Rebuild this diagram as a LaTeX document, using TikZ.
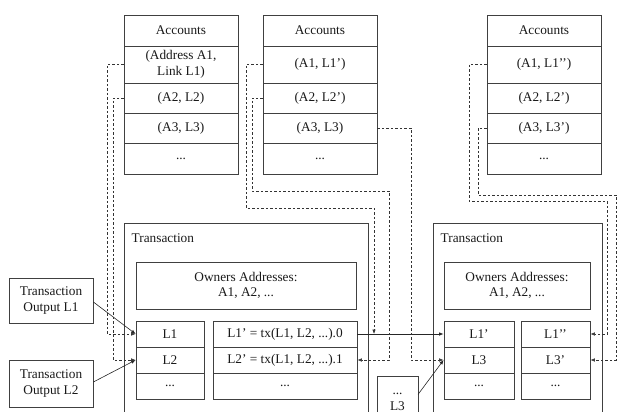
\documentclass[tikz,border=0pt]{standalone}
\usepackage{fontspec}
\setmainfont{Liberation Serif}
\usetikzlibrary{arrows.meta,calc}
\begin{document}
\begin{tikzpicture}[x=1pt,y=-1pt,
  every node/.style={font=\fontsize{13.3}{15.5}\selectfont, text=black!90},
  cell/.style={draw=black!75, line width=0.75pt, inner sep=0pt, align=center},
  plain/.style={inner sep=0pt, align=center},
  dashline/.style={draw=black!80, line width=0.6pt, dash pattern=on 2.6pt off 1.9pt, -{Latex[length=4.5pt,width=3.5pt]}},
  solidarrow/.style={draw=black!85, line width=0.75pt, -{Latex[length=4.5pt,width=3.5pt]}}]
\useasboundingbox (0,0) rectangle (619,412);
\clip (0,0) rectangle (619,412);

% ---------- Accounts tables ----------
\node[cell, minimum width=114pt, minimum height=31pt] (t1h)  at (181,30.5)  {Accounts};
\node[cell, minimum width=114pt, minimum height=37pt] (t1r1) at (181,64.5)  {(Address A1,\\Link L1)};
\node[cell, minimum width=114pt, minimum height=30pt] (t1r2) at (181,98)    {(A2, L2)};
\node[cell, minimum width=114pt, minimum height=30pt] (t1r3) at (181,128)   {(A3, L3)};
\node[cell, minimum width=114pt, minimum height=31pt] (t1r4) at (181,158.5) {...};

\node[cell, minimum width=114pt, minimum height=31pt] (t2h)  at (320,30.5)  {Accounts};
\node[cell, minimum width=114pt, minimum height=37pt] (t2r1) at (320,64.5)  {(A1, L1’)};
\node[cell, minimum width=114pt, minimum height=30pt] (t2r2) at (320,98)    {(A2, L2’)};
\node[cell, minimum width=114pt, minimum height=30pt] (t2r3) at (320,128)   {(A3, L3)};
\node[cell, minimum width=114pt, minimum height=31pt] (t2r4) at (320,158.5) {...};

\node[cell, minimum width=114pt, minimum height=31pt] (t3h)  at (544,30.5)  {Accounts};
\node[cell, minimum width=114pt, minimum height=37pt] (t3r1) at (544,64.5)  {(A1, L1’’)};
\node[cell, minimum width=114pt, minimum height=30pt] (t3r2) at (544,98)    {(A2, L2’)};
\node[cell, minimum width=114pt, minimum height=30pt] (t3r3) at (544,128)   {(A3, L3’)};
\node[cell, minimum width=114pt, minimum height=31pt] (t3r4) at (544,158.5) {...};

% ---------- Transaction 1 ----------
\node[cell, minimum width=244pt, minimum height=207pt] (tx1box) at (246,326.5) {};
\node[plain, anchor=west] (tx1lab) at (131.5,238) {Transaction};
\node[cell, minimum width=220pt, minimum height=47pt] (own1) at (246,285.5) {Owners Addresses:\\A1, A2, ...};
\node[cell, minimum width=68pt, minimum height=26pt] (i1a) at (170,334) {L1};
\node[cell, minimum width=68pt, minimum height=26pt] (i1b) at (170,360) {L2};
\node[cell, minimum width=68pt, minimum height=26pt] (i1c) at (170,386) {...};
\node[cell, minimum width=144pt, minimum height=26pt] (o1a) at (285,334) {L1’ = tx(L1, L2, ...).0};
\node[cell, minimum width=144pt, minimum height=26pt] (o1b) at (285,360) {L2’ = tx(L1, L2, ...).1};
\node[cell, minimum width=144pt, minimum height=26pt] (o1c) at (285,386) {...};

% ---------- Transaction 2 ----------
\node[cell, minimum width=169pt, minimum height=207pt] (tx2box) at (517.5,326.5) {};
\node[plain, anchor=west] (tx2lab) at (440.5,238) {Transaction};
\node[cell, minimum width=146pt, minimum height=47pt] (own2) at (517,285.5) {Owners Addresses:\\A1, A2, ...};
\node[cell, minimum width=70pt, minimum height=26pt] (i2a) at (479,334) {L1’};
\node[cell, minimum width=70pt, minimum height=26pt] (i2b) at (479,360) {L3};
\node[cell, minimum width=70pt, minimum height=26pt] (i2c) at (479,386) {...};
\node[cell, minimum width=69pt, minimum height=26pt] (o2a) at (555.5,334) {L1’’};
\node[cell, minimum width=69pt, minimum height=26pt] (o2b) at (555.5,360) {L3’};
\node[cell, minimum width=69pt, minimum height=26pt] (o2c) at (555.5,386) {...};

% ---------- small L3 box ----------
\node[cell, minimum width=41pt, minimum height=64pt] (l3box) at (397.5,408) {};
\node[plain] (l3text) at (397.5,402) {...\\L3};
\coordinate (l3src) at (418,394.5);

% ---------- outputs ----------
\node[cell, minimum width=84pt, minimum height=45pt] (out1) at (51,300.5) {Transaction\\Output L1};
\node[cell, minimum width=84pt, minimum height=47pt] (out2) at (51,383.5) {Transaction\\Output L2};

% ---------- solid arrows ----------
\draw[solidarrow] (o1a.east) -- (i2a.west);
\coordinate (j1) at (374,334);
\draw[solidarrow, line width=0.6pt] ($(out1.east)+(0,1.5)$) -- (i1a.west);
\draw[solidarrow, line width=0.6pt] ($(out2.east)+(0,-1.5)$) -- (i1b.west);
\draw[solidarrow, line width=0.6pt] (l3src) -- (i2b.west);

% ---------- dashed links ----------
\draw[dashline] (t1r1.west) -| (107,334) -- (i1a.west);
\draw[dashline] (t1r2.west) -| (113,360) -- (i1b.west);
\draw[dashline] (t2r1.west) -| (246,208) -| (j1);
\draw[dashline] (t2r2.west) -| (252,191) -| (389,360) -- (o1b.east);
\draw[dashline] (t2r3.east) -| (411,360) -- (i2b.west);
\draw[dashline] (t3r1.west) -| (469,201) -| (607,334) -- (o2a.east);
\draw[dashline] (t3r3.west) -| (478,195) -| (616,360) -- (o2b.east);
\end{tikzpicture}
\end{document}
